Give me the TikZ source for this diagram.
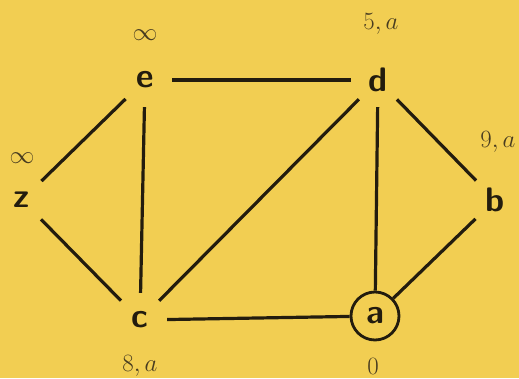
\documentclass[tikz,border=0pt]{standalone}
\usepackage{fontspec}
\begin{document}
\begin{tikzpicture}[x=1pt,y=-1pt,
  vtx/.style={circle,minimum size=54pt,inner sep=0pt,font=\fontsize{34}{34}\selectfont\sffamily\bfseries,text=ink},
  src/.style={circle,draw=ink,line width=2.8pt,minimum size=48pt,inner sep=0pt,font=\fontsize{34}{34}\selectfont\sffamily\bfseries,text=ink},
  lab/.style={inner sep=0pt,font=\fontsize{24}{24}\selectfont,text=labc},
  edge/.style={draw=ink,line width=3.2pt}]
\definecolor{bg}{RGB}{242,206,82}
\definecolor{ink}{RGB}{35,28,14}
\definecolor{labc}{RGB}{72,60,32}
\fill[bg] (0,0) rectangle (519,378);
\useasboundingbox (0,0) rectangle (519,378);
\node[vtx] (e) at (145,80) {e};
\node[vtx] (d) at (378,80) {d};
\node[vtx] (z) at (22,200) {z};
\node[vtx] (b) at (495,200) {b};
\node[vtx] (c) at (140,320) {c};
\node[src] (a) at (375,316) {a};
\node[lab] (le) at (145,35) {$\infty$};
\node[lab] (ld) at (381,24) {$5,a$};
\node[lab] (lz) at (22,158) {$\infty$};
\node[lab] (lb) at (498,142) {$9,a$};
\node[lab] (lc) at (140,366) {$8,a$};
\node[lab] (la) at (373,366) {$0$};
\path[edge] (e) -- (d);
\path[edge] (e) -- (z);
\path[edge] (e) -- (c);
\path[edge] (d) -- (c);
\path[edge] (d) -- (a);
\path[edge] (d) -- (b);
\path[edge] (z) -- (c);
\path[edge] (c) -- (a);
\path[edge] (a) -- (b);
\end{tikzpicture}
\end{document}
